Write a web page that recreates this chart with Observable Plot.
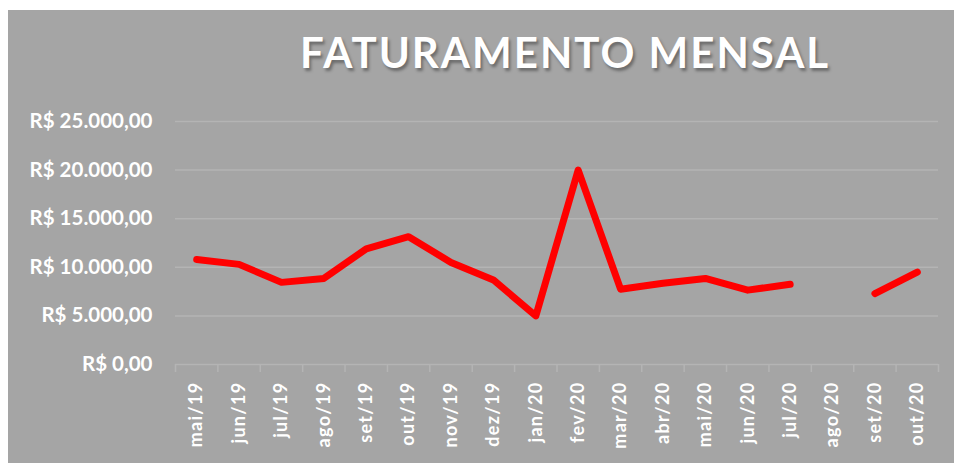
<!DOCTYPE html>
<html>
<head>
<meta charset="utf-8">
<script src="https://cdn.jsdelivr.net/npm/d3@7"></script>
<script src="https://cdn.jsdelivr.net/npm/@observablehq/plot@0.6"></script>
<style>
  html, body { margin: 0; padding: 0; background: #ffffff; }
  #wrap { position: absolute; left: 8px; top: 10px; width: 946px; height: 453px; background: #a5a5a5; overflow: hidden; }
  #title { position: absolute; left: 292px; top: 21px; font-family: Lato, sans-serif; font-weight: 700; font-size: 42px; line-height: 42px; color: #ffffff; letter-spacing: 2px; white-space: nowrap; text-shadow: 2px 3px 3px rgba(0,0,0,0.35); }
  #chart { position: absolute; left: 0; top: 0; }
  #chart g[aria-label="x-axis tick label"] text { letter-spacing: 1.3px; }
</style>
</head>
<body>
<div id="wrap">
  <div id="chart"></div>
  <div id="title">FATURAMENTO MENSAL</div>
</div>
<script>
const months = ["mai/19","jun/19","jul/19","ago/19","set/19","out/19","nov/19","dez/19","jan/20","fev/20","mar/20","abr/20","mai/20","jun/20","jul/20","ago/20","set/20","out/20"];
const revenue = [10800, 10300, 8450, 8850, 11900, 13150, 10500, 8700, 5000, 20000, 7750, 8350, 8850, 7650, 8250, null, 7300, 9500];
const yTicks = [0, 5000, 10000, 15000, 20000, 25000];

const data = months.map((m, i) => ({i, month: m, value: revenue[i]}));
const brl = d3.formatLocale({decimal: ",", thousands: ".", grouping: [3], currency: ["R$ ", ""]});
const fmt = brl.format(",.2f");
const boundaries = d3.range(months.length + 1).map(i => i - 0.5);
const gridColor = "#b4b4b4";

const chart = Plot.plot({
  width: 946,
  height: 453,
  marginLeft: 167,
  marginRight: 16,
  marginTop: 111,
  marginBottom: 99,
  style: {background: "transparent", color: "#ffffff", fontFamily: "Lato, sans-serif", overflow: "visible"},
  x: {type: "linear", domain: [-0.5, months.length - 0.5], label: null},
  y: {domain: [0, 25000], label: null},
  marks: [
    Plot.gridY(yTicks, {stroke: gridColor, strokeOpacity: 1, strokeWidth: 1.5}),
    Plot.axisY(yTicks, {tickSize: 0, tickPadding: 23, tickFormat: d => "R$ " + fmt(d), fontSize: 20.5, fontWeight: "bold", fill: "#ffffff", label: null}),
    Plot.axisX(boundaries, {tickSize: 8, tickFormat: () => "", stroke: gridColor, strokeWidth: 1.5, label: null}),
    Plot.axisX(d3.range(months.length), {tickSize: 0, tickPadding: 17, tickRotate: -90, tickFormat: i => months[i], fontSize: 18, fontWeight: "bold", fill: "#ffffff", label: null}),
    Plot.line(data, {x: "i", y: "value", stroke: "#ff0000", strokeWidth: 7, strokeLinecap: "round", strokeLinejoin: "round", style: "filter: drop-shadow(2px 4px 3px rgba(0,0,0,0.35))"})
  ]
});
document.getElementById("chart").appendChild(chart);
</script>
</body>
</html>
